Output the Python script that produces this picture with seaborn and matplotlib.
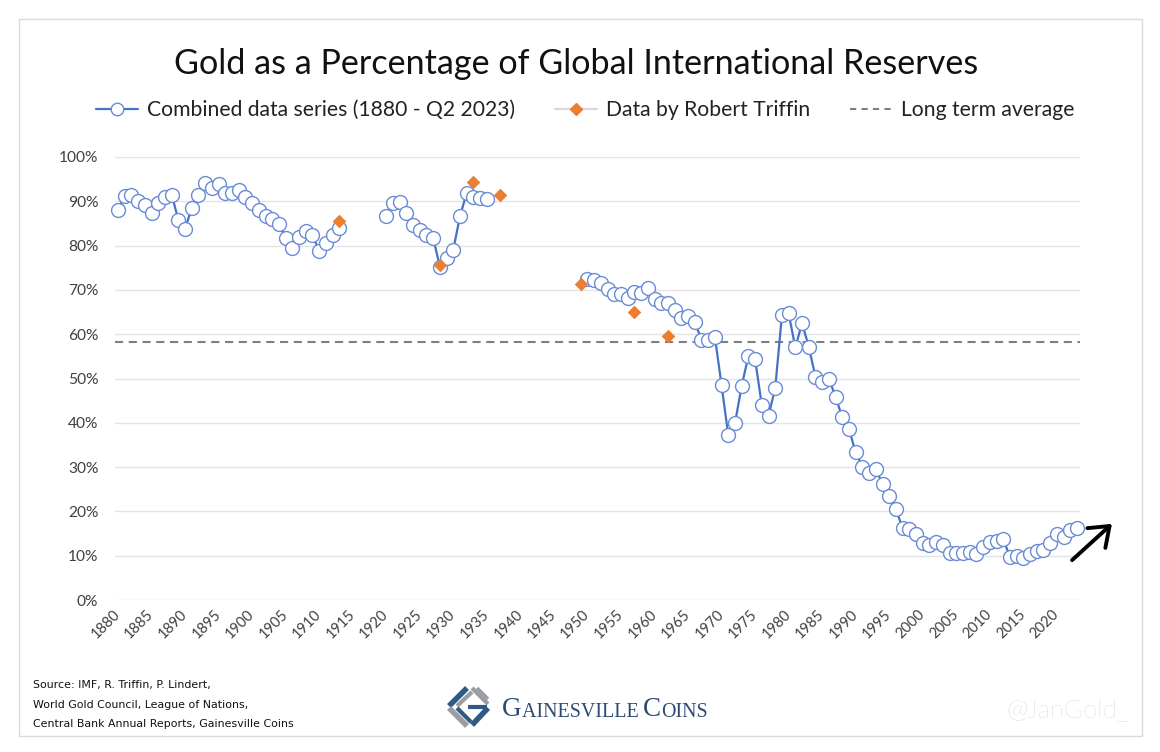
import numpy as np
import pandas as pd
import matplotlib
matplotlib.use("Agg")
import matplotlib.pyplot as plt
import seaborn as sns
from matplotlib.lines import Line2D
from matplotlib.patches import Rectangle, FancyArrowPatch
from matplotlib.text import Annotation

# ---------------- data ----------------
years_a = list(range(1880, 1914))
vals_a = [88.1, 91.3, 91.5, 90.0, 89.1, 87.4, 89.6, 91.0, 91.5, 85.8,
          83.8, 88.5, 91.5, 94.2, 93.0, 94.0, 91.9, 91.9, 92.6, 90.9,
          89.6, 88.1, 86.6, 86.0, 84.9, 81.7, 79.4, 82.0, 83.2, 82.4,
          78.8, 80.5, 82.4, 84.0]
years_b = list(range(1920, 1936))
vals_b = [86.6, 89.6, 89.8, 87.4, 84.7, 83.6, 82.4, 81.7, 75.2, 77.3,
          79.1, 86.7, 91.9, 90.9, 90.8, 90.5]
years_c = list(range(1950, 2024))
vals_c = [72.4, 72.2, 71.6, 70.1, 69.1, 69.1, 68.1, 69.6, 69.4, 70.4,
          67.9, 67.0, 67.0, 65.5, 63.6, 64.1, 62.8, 58.8, 58.8, 59.4,
          48.5, 37.2, 39.9, 48.3, 55.1, 54.3, 44.0, 41.6, 47.8, 64.3,
          64.7, 57.0, 62.5, 57.2, 50.4, 49.3, 49.9, 45.9, 41.2, 38.6,
          33.3, 30.1, 28.6, 29.5, 26.2, 23.5, 20.5, 16.2, 16.0, 14.9,
          12.9, 12.4, 13.2, 12.4, 10.7, 10.7, 10.7, 10.9, 10.4, 12.0,
          13.2, 13.4, 13.7, 9.8, 9.9, 9.4, 10.4, 11.1, 11.3, 12.8,
          14.9, 14.2, 15.8, 16.2]
triffin_years = [1913, 1928, 1933, 1937, 1949, 1957, 1962]
triffin_vals = [85.5, 75.6, 94.4, 91.4, 71.3, 64.9, 59.7]
long_term_avg = 58.3

x_ticks = list(range(1880, 2021, 5))
y_ticks = list(range(0, 101, 10))
y_tick_labels = [f"{v}%" for v in y_ticks]

title = "Gold as a Percentage of Global International Reserves"
legend_labels = ["Combined data series (1880 - Q2 2023)",
                 "Data by Robert Triffin", "Long term average"]
source_lines = ["Source: IMF, R. Triffin, P. Lindert,",
                "World Gold Council, League of Nations,",
                "Central Bank Annual Reports, Gainesville Coins"]

# ---------------- frame ----------------
df = pd.DataFrame({
    "year": years_a + years_b + years_c,
    "pct": vals_a + vals_b + vals_c,
    "segment": [0] * len(years_a) + [1] * len(years_b) + [2] * len(years_c),
})
tdf = pd.DataFrame({"year": triffin_years, "pct": triffin_vals})

sns.set_theme(style="white")
plt.rcParams["font.family"] = ["Lato", "DejaVu Sans"]

W, H = 1160, 752
fig = plt.figure(figsize=(W / 100, H / 100), dpi=100)
fig.patch.set_facecolor("white")

def fx(px):
    return px / W

def fy(py):
    return 1 - py / H

ax = fig.add_axes([fx(115), fy(600), fx(1080) - fx(115), fy(157) - fy(600)])

BLUE = "#4472C4"
BLUE_EDGE = "#6A8BD6"
ORANGE = "#ED7D31"
GRAY = "#7F7F7F"

for v in y_ticks:
    ax.axhline(v, color="#E4E4E4", lw=1.0, zorder=0)

ax.axhline(long_term_avg, color=GRAY, lw=1.5, ls=(0, (3.9, 2.7)), zorder=1)

sns.lineplot(data=df, x="year", y="pct", units="segment", estimator=None,
             sort=False, color=BLUE, lw=1.6, marker="o", markersize=10,
             markerfacecolor="white", markeredgecolor=BLUE_EDGE,
             markeredgewidth=1.0, legend=False, ax=ax, zorder=3,
             clip_on=False)

sns.scatterplot(data=tdf, x="year", y="pct", marker="D", s=48,
                color=ORANGE, edgecolor=ORANGE, linewidth=0, legend=False,
                ax=ax, zorder=5, clip_on=False)

ax.set_xlim(1879.55, 2023.45)
ax.set_ylim(0, 100)
ax.set_xticks(x_ticks)
ax.set_xticklabels([str(t) for t in x_ticks], rotation=45, ha="right",
                   va="center", rotation_mode="anchor", fontsize=10.5,
                   color="#404040")
ax.set_yticks(y_ticks)
ax.set_yticklabels(y_tick_labels, fontsize=11.2, color="#404040")
ax.tick_params(axis="both", length=0)
ax.tick_params(axis="x", pad=9)
ax.tick_params(axis="y", pad=12)
ax.set_xlabel("")
ax.set_ylabel("")
for s in ax.spines.values():
    s.set_visible(False)
ax.grid(False)
ax.patch.set_alpha(0)

# ---------------- title & legend ----------------
fig.text(fx(576), fy(64), title, ha="center", va="center", fontsize=24.6,
         color="#111111")

handles = [
    Line2D([], [], color=BLUE, lw=1.6, marker="o", markersize=9,
           markerfacecolor="white", markeredgecolor=BLUE_EDGE,
           markeredgewidth=1.0),
    Line2D([], [], color="#D9D9D9", lw=1.6, marker="D", markersize=6,
           markerfacecolor=ORANGE, markeredgecolor=ORANGE),
    Line2D([], [], color=GRAY, lw=1.5, ls=(0, (3.0, 2.5))),
]
fig.legend(handles, legend_labels, loc="center",
           bbox_to_anchor=(fx(585), fy(110)), ncol=3, frameon=False,
           fontsize=15.2, handlelength=2.0, columnspacing=1.9,
           handletextpad=0.4, labelcolor="#222222")

# ---------------- card border ----------------
fig.add_artist(Rectangle((fx(19), fy(736)), fx(1142) - fx(19),
                         fy(19) - fy(736), transform=fig.transFigure,
                         fill=False, edgecolor="#DADADA", lw=1.0))

# ---------------- arrow ----------------
fig.add_artist(FancyArrowPatch(
    (fx(1070), fy(562)), (fx(1114), fy(522)), transform=fig.transFigure,
    arrowstyle="->,head_length=8,head_width=6", lw=2.8, color="black",
    mutation_scale=1.6))

# ---------------- footer ----------------
for i, line in enumerate(source_lines):
    fig.text(fx(33), fy(685 + i * 19.5), line, ha="left", va="center",
             fontsize=7.9, color="#111111",
             family=["Liberation Sans Narrow", "DejaVu Sans"])

fig.text(fx(1067), fy(710), "@JanGold_", ha="center", va="center",
         fontsize=18.5, color="#C2C2C2", fontweight="light")

# logo icon (approximate)
NAVY = "#2E5A86"
LGRAY = "#9A9EA3"
def seg(p, q, c, lw=4.0):
    fig.add_artist(Line2D([fx(p[0]), fx(q[0])], [fy(p[1]), fy(q[1])],
                          transform=fig.transFigure, color=c, lw=lw,
                          solid_capstyle="butt"))
seg((467, 688), (449, 706), NAVY)
seg((472, 692), (457, 706), LGRAY, 3)
seg((449, 708), (467, 726), LGRAY)
seg((457, 708), (471, 722), NAVY, 3)
seg((472, 688), (488, 704), LGRAY, 3)
seg((477, 688), (488, 699), LGRAY, 2.5)
seg((488, 708), (472, 725), NAVY)
seg((468, 707), (487, 707), NAVY, 3)

# logo wordmark (small caps)
WM = "#2B4A73"
t1 = fig.text(fx(502), fy(716), "G", ha="left", va="baseline", fontsize=19.5,
              color=WM, family="Liberation Serif")
a2 = fig.add_artist(Annotation(
    "AINESVILLE ", xy=(1, 0), xycoords=t1, va="bottom", ha="left",
    fontsize=14.4, color=WM, family="Liberation Serif"))
a3 = fig.add_artist(Annotation(
    "C", xy=(1, 0), xycoords=a2, va="bottom", ha="left",
    fontsize=19.5, color=WM, family="Liberation Serif"))
a4 = fig.add_artist(Annotation(
    "OINS", xy=(1, 0), xycoords=a3, va="bottom", ha="left",
    fontsize=14.4, color=WM, family="Liberation Serif"))

fig.savefig("out.png", dpi=100, facecolor="white")
